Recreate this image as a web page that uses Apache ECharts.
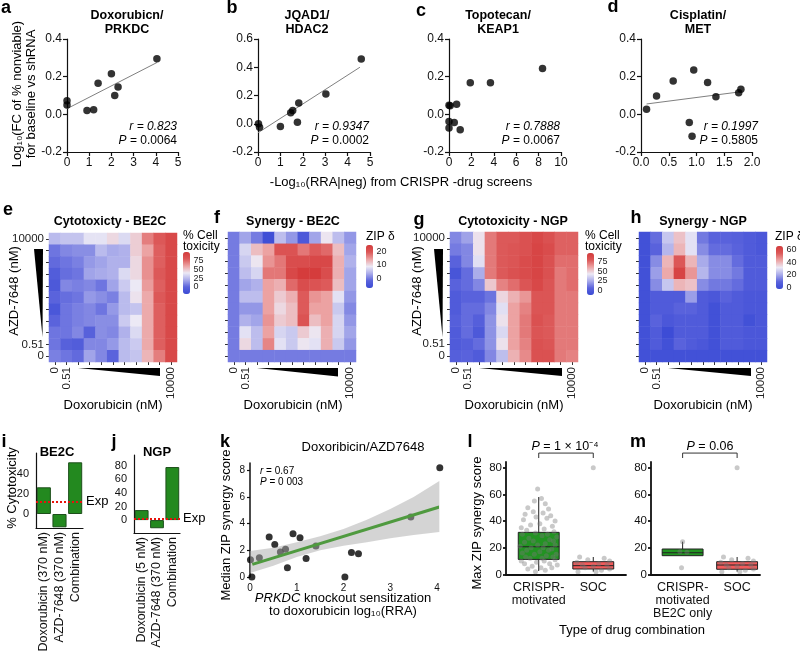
<!DOCTYPE html>
<html><head><meta charset="utf-8">
<script src="https://cdn.jsdelivr.net/npm/echarts@6/dist/echarts.min.js"></script>
<style>html,body{margin:0;padding:0;background:#fff}#c{width:800px;height:655px}</style>
</head><body><div id="c"></div>
<script>
const FF = '"Liberation Sans", Arial, Helvetica, sans-serif';

// ---------- panels a-d : scatter ----------
const aX = [0, 0, 0.9, 1.2, 1.4, 2.0, 2.15, 2.3, 4.05];
const aY = [0.072, 0.05, 0.02, 0.025, 0.165, 0.215, 0.1, 0.145, 0.295];
const aFitX = [0, 4.05], aFitY = [0.03, 0.275];
const bX = [0.02, 0.07, 1.0, 1.46, 1.55, 1.76, 1.82, 3.03, 4.61];
const bY = [0.0, -0.025, -0.02, 0.078, 0.093, 0.01, 0.147, 0.211, 0.458];
const bFitX = [0, 4.55], bFitY = [-0.064, 0.40];
const cX = [0, 0.1, 0.68, 0, 0.47, 0, 1.0, 1.9, 3.7, 8.35];
const cY = [0.048, 0.045, 0.054, -0.038, -0.043, -0.073, -0.082, 0.168, 0.168, 0.243];
const dX = [0.1, 0.28, 0.58, 0.95, 1.2, 1.35, 1.76, 1.8, 0.87, 0.92];
const dY = [0.027, 0.098, 0.177, 0.236, 0.169, 0.094, 0.114, 0.133, -0.043, -0.117];
const dFitX = [0.1, 1.8], dFitY = [0.055, 0.12];

// ---------- panels e-h : heatmaps (rows listed top = 10000 -> bottom = 0) ----------
const conc = ['0','0.51','1.5','4.6','14','41','123','370','1111','3333','10000'];
const concShown = ['0','0.51','10000'];
const cytoBE2C = [
 [25, 28, 28, 38, 38, 45, 35, 48, 70, 80, 90],
 [5, 10, 12, 12, 25, 20, 22, 48, 60, 78, 90],
 [2, 5, 8, 15, 18, 22, 22, 45, 65, 78, 90],
 [-5, 3, 5, 18, 20, 22, 35, 45, 65, 80, 90],
 [-8, 10, 8, 10, 5, 18, 30, 40, 62, 78, 90],
 [0, 3, 5, 15, 12, 8, 25, 42, 58, 80, 90],
 [-10, 5, 8, 10, 5, 15, 25, 28, 58, 78, 90],
 [0, 5, 8, 10, 12, 12, 30, 40, 58, 78, 90],
 [5, 5, 10, -2, 12, 10, 22, 35, 58, 78, 90],
 [5, -2, -5, 10, 10, 15, 25, 30, 58, 78, 90],
 [8, 5, 2, 18, 10, 0, 25, 28, 55, 70, 90]
];
const synBE2C = [
 [0, 3, 0, -6, 5, 2, -4, 3, 9, 5, 2],
 [0, 7, 12, 14, 20, 20, 17, 19, 18, 12, 3],
 [0, 6, 9, 15, 17, 21, 21, 22, 22, 13, 4],
 [0, 5, 7, 17, 17, 22, 24, 24, 21, 13, 3],
 [0, 3, 4, 14, 13, 18, 21, 20, 19, 12, 3],
 [0, 5, 5, 14, 11, 13, 19, 15, 14, 8, 2],
 [0, 2, 2, 14, 10, 12, 19, 14, 14, 6, 1],
 [0, 4, 3, 15, 11, 12, 20, 12, 14, 7, 2],
 [0, 8, 5, 14, 7, 6, 11, 9, 13, 7, 3],
 [0, 10, 5, 16, 8, 6, 9, 8, 13, 6, 2],
 [0, 0, 0, 0, 0, 0, 0, 0, 0, 0, 0]
];
const cytoNGP = [
 [15, 22, 45, 72, 80, 80, 85, 90, 85, 78, 78],
 [12, 15, 45, 72, 80, 82, 85, 92, 88, 78, 78],
 [5, 15, 40, 72, 80, 82, 88, 92, 85, 75, 75],
 [-5, 8, 25, 72, 80, 85, 88, 92, 85, 72, 75],
 [5, 8, 15, 52, 70, 75, 82, 90, 82, 72, 75],
 [0, 5, 5, 10, 48, 58, 65, 82, 82, 72, 72],
 [0, 8, 8, 15, 40, 62, 70, 82, 82, 72, 72],
 [3, 8, 3, 18, 45, 62, 72, 85, 80, 72, 72],
 [0, 8, -2, 18, 38, 62, 72, 82, 80, 72, 72],
 [0, 3, 8, 18, 45, 62, 70, 85, 82, 72, 72],
 [3, 5, 0, 15, 30, 58, 68, 85, 85, 72, 70]
];
const synNGP = [
 [0, 10, 25, 38, 30, 12, 8, 8, 7, 5, 3],
 [0, 8, 22, 40, 30, 15, 10, 10, 8, 5, 3],
 [0, 15, 40, 55, 40, 20, 15, 15, 10, 5, 5],
 [0, 18, 42, 62, 45, 22, 15, 15, 12, 5, 5],
 [0, 15, 25, 40, 38, 15, 12, 12, 10, 5, 5],
 [0, 5, 5, 5, 18, 5, 3, 8, 5, 3, 3],
 [0, 5, 5, 8, 8, 5, 0, 5, 5, 3, 3],
 [0, 8, 3, 5, 5, 5, 0, 5, 5, 0, 3],
 [0, 5, -2, 5, 5, 5, 0, 5, 5, 3, 3],
 [0, 5, 0, 8, 5, 3, 0, 5, 5, 3, 3],
 [0, 0, 0, 0, 0, 0, 0, 0, 0, 0, 0]
];
const cytoTicks = [75, 50, 25, 0];
const synBE2CTicks = [20, 10, 0];
const synNGPTicks = [60, 40, 20, 0];

// ---------- panels i-j : bars ----------
const iCats = ['Doxorubicin (370 nM)', 'AZD-7648 (370 nM)', 'Combination'];
const iVals = [26.7, -13.3, 51.7];
const iExp = 12.3;
const iTicks = [0, 20, 40];
const jCats = ['Doxorubicin (5 nM)', 'AZD-7648 (370 nM)', 'Combination'];
const jVals = [14.7, -12, 78];
const jExp = 2.5;
const jTicks = [0, 20, 40, 60, 80];

// ---------- panel k ----------
const kX = [0.01, 0.04, 0.2, 0.41, 0.53, 0.65, 0.76, 0.8, 0.92, 1.07, 1.2, 1.41, 2.03, 2.17, 2.32, 3.44, 4.06];
const kY = [1.3, 0, 1.45, 3.0, 2.43, 1.88, 2.08, 0.7, 3.25, 2.95, 1.38, 2.33, 0, 1.83, 1.75, 4.5, 8.2];
const kFitX = [0.05, 4.05], kFitY = [0.95, 5.25];
const kBandX = [0, 0.5, 1, 1.5, 2, 2.5, 3, 3.5, 4.05];
const kBandLo = [0.3, 0.85, 1.5, 2.0, 2.35, 2.6, 2.9, 3.15, 3.38];
const kBandHi = [1.95, 2.2, 2.6, 3.05, 3.6, 4.3, 5.1, 6.0, 7.2];
const kXTicks = [0, 1, 2, 3, 4];
const kYTicks = [0, 2, 4, 6, 8];

// ---------- panels l-m : box plots ----------
const boxTicks = [0, 20, 40, 60, 80];
const lCats = ['CRISPR-\nmotivated', 'SOC'];
const mCats = ['CRISPR-\nmotivated\nBE2C only', 'SOC'];
// [pos, low whisker, q1, median, q3, high whisker]
const lBoxes = [[1, 2.5, 11.2, 20.7, 31.5, 58], [2, 2, 4, 6.5, 9.5, 13]];
const mBoxes = [[1, 14, 14, 16.2, 19, 24.5], [2, 2, 3.8, 7, 9.5, 13]];
const crisprY = [64,57,55,53,50,49,47,46,45,44,43,42,41,40,38,37,36,35,34,33,32,31,30,30,29,28,27,26,25,25,24,23,22,22,21,20,20,19,18,18,17,16,15,15,14,13,13,12,12,11,10,10,9,8,8,7,6,5,5,4,3,2];
const crisprDx = [-0.02,0.05,-0.08,0.12,-0.2,0.18,-0.1,0.08,-0.25,0.22,-0.05,0.15,-0.28,0.3,0.02,-0.15,0.25,-0.32,0.1,-0.22,0.28,-0.06,0.16,-0.3,0.06,0.33,-0.18,0.2,-0.1,0.27,-0.26,0.12,-0.02,0.3,-0.34,0.08,-0.14,0.24,-0.22,0.18,0.02,-0.3,0.32,-0.08,0.14,-0.24,0.26,0.06,-0.16,0.3,-0.32,0.1,-0.04,0.2,-0.26,0.34,-0.12,0.04,0.24,-0.2,0.12,-0.06];
const socY = [80, 13, 12, 11, 10, 9, 8, 7, 7, 6, 5, 4, 3, 2, 2];
const socDx = [0, -0.25, 0.2, -0.1, 0.3, -0.3, 0.1, -0.2, 0.25, 0.0, -0.15, 0.3, 0.15, -0.28, 0.05];
const be2cY = [24.5, 17, 16.5, 5];
const be2cDx = [0, -0.05, 0.08, -0.02];

// ================= build =================
const PAL = ['#3a4ad5', '#5a63dc', '#a9abea', '#ece9f5', '#eca3a3', '#dc5858', '#d43a3a'];
const grids = [], xAxes = [], yAxes = [], series = [], visualMaps = [], graphics = [];
function addGrid(l, t, w, h) { grids.push({left: l, top: t, width: w, height: h, outerBoundsMode: 'none', containLabel: false}); return grids.length - 1; }
const ax = (o) => Object.assign({splitLine: {show: false}}, o);
function T(x, y, text, o = {}) {
  const font = `${o.it ? 'italic ' : ''}${o.b ? 'bold ' : ''}${o.s || 12}px ${FF}`;
  return {type: 'text', x, y, rotation: o.rot || 0, z: 100,
    style: {text, fill: o.c || '#000', font, textAlign: o.a || 'center', align: o.a || 'center',
      textVerticalAlign: 'middle', verticalAlign: 'middle', lineHeight: o.lh, rich: o.rich}};
}
const richI = (s) => ({i: {fontStyle: 'italic', fontSize: s, fontFamily: FF, fill: '#000'}, n: {fontSize: s, fontFamily: FF, fill: '#000'}});

function scatterPanel(g, xs, ys, xr, yr, xdec, fitX, fitY) {
  const gi = addGrid(...g);
  const line = {show: true, onZero: false, lineStyle: {color: '#111', width: 1.2}};
  const tick = {show: true, length: 4, lineStyle: {color: '#111', width: 1.2}};
  const fmt = (d) => (v) => (Math.abs(v) < 1e-9 ? 0 : v).toFixed(d);
  xAxes.push(ax({type: 'value', gridIndex: gi, min: xr[0], max: xr[1], interval: xr[2], axisLine: line, axisTick: tick,
    axisLabel: {color: '#111', fontSize: 12, fontFamily: FF, margin: 5, formatter: fmt(xdec)}}));
  yAxes.push(ax({type: 'value', gridIndex: gi, min: yr[0], max: yr[1], interval: yr[2], axisLine: line, axisTick: tick,
    axisLabel: {color: '#111', fontSize: 12, fontFamily: FF, margin: 5, formatter: fmt(1)}}));
  const xi = xAxes.length - 1, yi = yAxes.length - 1;
  if (fitX) series.push({type: 'line', xAxisIndex: xi, yAxisIndex: yi, data: fitX.map((x, k) => [x, fitY[k]]),
    symbol: 'none', lineStyle: {color: '#808080', width: 1}, z: 2, silent: true});
  series.push({type: 'scatter', xAxisIndex: xi, yAxisIndex: yi, data: xs.map((x, k) => [x, ys[k]]),
    symbolSize: 7.5, itemStyle: {color: '#000'}, clip: false, z: 3});
}
scatterPanel([67, 39, 111, 113], aX, aY, [0, 5, 1], [-0.2, 0.4, 0.2], 0, aFitX, aFitY);
scatterPanel([258, 39, 112, 113], bX, bY, [0, 5, 1], [-0.2, 0.6, 0.2], 0, bFitX, bFitY);
scatterPanel([449, 39, 112, 113], cX, cY, [0, 10, 2], [-0.2, 0.4, 0.2], 0, null, null);
scatterPanel([641, 39, 111, 113], dX, dY, [0, 2, 0.5], [-0.2, 0.4, 0.2], 1, dFitX, dFitY);

function heatPanel(g, rows, vmin, vmax, showY, vm, ticks) {
  const gi = addGrid(...g);
  const tick = {show: true, alignWithLabel: true, interval: 0, length: 3, lineStyle: {color: '#333', width: 1}};
  const lab = {interval: 0, fontSize: 11.5, color: '#222', fontFamily: FF, formatter: (v) => concShown.includes(v) ? v : ''};
  xAxes.push(ax({type: 'category', gridIndex: gi, data: conc, axisLine: {show: false}, axisTick: tick,
    axisLabel: Object.assign({rotate: 90, margin: 5}, lab)}));
  yAxes.push(ax({type: 'category', gridIndex: gi, data: conc, axisLine: {show: false}, axisTick: tick,
    axisLabel: Object.assign({show: showY, margin: 5}, lab)}));
  const data = [];
  rows.forEach((row, r) => row.forEach((v, c) => data.push([c, rows.length - 1 - r, v])));
  series.push({type: 'heatmap', xAxisIndex: xAxes.length - 1, yAxisIndex: yAxes.length - 1, data, itemStyle: {borderWidth: 0}});
  visualMaps.push({type: 'continuous', seriesIndex: series.length - 1, min: vmin, max: vmax, dimension: 2,
    calculable: false, show: true, orient: 'vertical', left: vm[0], top: vm[1], itemWidth: vm[2], itemHeight: vm[3],
    text: null, padding: 0, inRange: {color: PAL}, hoverLink: false});
  ticks.forEach((t) => {
    const y = vm[1] + (vmax - t) / (vmax - vmin) * vm[3];
    graphics.push(T(vm[0] + vm[2] + 3.5, y, String(t), {s: 9, a: 'left', c: '#222'}));
  });
}
heatPanel([49, 233, 128, 129], cytoBE2C, -20, 100, true, [183, 252, 7, 42], cytoTicks);
heatPanel([228, 232, 128, 130], synBE2C, -7, 24.4, false, [366, 245, 7, 43], synBE2CTicks);
heatPanel([450, 232, 128, 130], cytoNGP, -13, 99, true, [587, 253, 7, 42], cytoTicks);
heatPanel([639, 232, 128, 130], synNGP, -3, 66, false, [776, 246, 7, 43], synNGPTicks);

function barPanel(g, cats, vals, yr, ticks, exp) {
  const gi = addGrid(...g);
  xAxes.push(ax({type: 'category', gridIndex: gi, data: cats, axisLine: {show: true, onZero: false, lineStyle: {color: '#111', width: 1.2}},
    axisTick: {show: false}, axisLabel: {interval: 0, rotate: 90, fontSize: 12.5, color: '#111', fontFamily: FF, margin: 4}}));
  yAxes.push(ax({type: 'value', gridIndex: gi, min: yr[0], max: yr[1], axisLine: {show: true, lineStyle: {color: '#111', width: 1.2}},
    axisTick: {show: false}, axisLabel: {customValues: ticks, fontSize: 11, color: '#111', fontFamily: FF, margin: 7}}));
  series.push({type: 'bar', xAxisIndex: xAxes.length - 1, yAxisIndex: yAxes.length - 1, data: vals, barWidth: '90%',
    itemStyle: {color: '#23891f', borderColor: '#1d4f1b', borderWidth: 1},
    markLine: {symbol: 'none', silent: true, animation: false, lineStyle: {color: '#e8120c', type: [2, 2], width: 2},
      data: [{yAxis: exp}], label: {show: true, position: 'end', formatter: 'Exp', color: '#000', fontSize: 13, fontFamily: FF, distance: 3}}});
}
barPanel([36, 453, 47, 75], iCats, iVals, [-14, 61], iTicks, iExp);
barPanel([134, 455, 46, 78], jCats, jVals, [-19, 95.7], jTicks, jExp);

// k
(function () {
  const gi = addGrid(250, 463, 187, 114);
  xAxes.push(ax({type: 'value', gridIndex: gi, min: 0, max: 4, axisLine: {show: false, onZero: false}, axisTick: {show: false},
    axisLabel: {customValues: kXTicks, fontSize: 10, color: '#111', fontFamily: FF, margin: 6}}));
  yAxes.push(ax({type: 'value', gridIndex: gi, min: 0, max: 8.55, axisLine: {show: true, lineStyle: {color: '#111', width: 1.5}},
    axisTick: {show: true, customValues: kYTicks, length: 3, lineStyle: {color: '#111', width: 1.2}},
    axisLabel: {customValues: kYTicks, fontSize: 10, color: '#111', fontFamily: FF, margin: 5}}));
  const xi = xAxes.length - 1, yi = yAxes.length - 1;
  series.push({type: 'scatter', xAxisIndex: xi, yAxisIndex: yi, data: kX.map((x, i) => [x, kY[i]]), symbolSize: 7,
    itemStyle: {color: '#000'}, clip: false, z: 2});
  series.push({type: 'custom', xAxisIndex: xi, yAxisIndex: yi, data: [[0]], z: 3, silent: true, clip: false,
    renderItem: (p, api) => {
      const pts = kBandX.map((x, i) => api.coord([x, kBandHi[i]])).concat(kBandX.map((x, i) => api.coord([x, kBandLo[i]])).reverse());
      return {type: 'polygon', shape: {points: pts}, style: {fill: 'rgba(170,170,170,0.5)'}};
    }});
  series.push({type: 'line', xAxisIndex: xi, yAxisIndex: yi, data: kFitX.map((x, i) => [x, kFitY[i]]), symbol: 'none',
    lineStyle: {color: '#4f9a3f', width: 3}, z: 4, silent: true});
})();

function boxPanel(g, xr, cats, boxes, colors, groups) {
  const gi = addGrid(...g);
  xAxes.push(ax({type: 'value', gridIndex: gi, min: xr[0], max: xr[1], axisLine: {show: true, onZero: false, lineStyle: {color: '#111', width: 1.8}},
    axisTick: {show: false}, axisLabel: {customValues: [1, 2], formatter: (v) => cats[Math.round(v) - 1], fontSize: 12.5,
      lineHeight: 13, color: '#111', fontFamily: FF, margin: 6, verticalAlign: 'top'}}));
  yAxes.push(ax({type: 'value', gridIndex: gi, min: -0.5, max: 84.3, axisLine: {show: true, lineStyle: {color: '#111', width: 1.8}},
    axisTick: {show: true, customValues: boxTicks, length: 3, lineStyle: {color: '#111', width: 1.8}},
    axisLabel: {customValues: boxTicks, fontSize: 11.5, color: '#111', fontFamily: FF, margin: 4}}));
  const xi = xAxes.length - 1, yi = yAxes.length - 1;
  series.push({type: 'custom', xAxisIndex: xi, yAxisIndex: yi, data: boxes, z: 2, silent: true,
    renderItem: (p, api) => {
      const x = api.value(0), lo = api.value(1), q1 = api.value(2), md = api.value(3), q3 = api.value(4), hi = api.value(5);
      const hw = 0.375;
      const tl = api.coord([x - hw, q3]), br = api.coord([x + hw, q1]);
      const a = api.coord([x, hi]), b = api.coord([x, q3]), c = api.coord([x, q1]), d = api.coord([x, lo]);
      const m1 = api.coord([x - hw, md]), m2 = api.coord([x + hw, md]);
      const st = {stroke: '#222', lineWidth: 1};
      return {type: 'group', children: [
        {type: 'line', shape: {x1: a[0], y1: a[1], x2: b[0], y2: b[1]}, style: st},
        {type: 'line', shape: {x1: c[0], y1: c[1], x2: d[0], y2: d[1]}, style: st},
        {type: 'rect', shape: {x: tl[0], y: tl[1], width: br[0] - tl[0], height: br[1] - tl[1]}, style: {fill: colors[p.dataIndex], stroke: '#222', lineWidth: 1}},
        {type: 'line', shape: {x1: m1[0], y1: m1[1], x2: m2[0], y2: m2[1]}, style: st}
      ]};
    }});
  groups.forEach(([cx, ys, dxs]) => {
    series.push({type: 'scatter', xAxisIndex: xi, yAxisIndex: yi, data: ys.map((y, i) => [cx + dxs[i], y]), symbolSize: 5,
      itemStyle: {color: 'rgba(120,120,120,0.5)'}, clip: false, z: 3});
  });
  series.push({type: 'custom', xAxisIndex: xi, yAxisIndex: yi, data: [[1, 2, 91, 87.3]], z: 4, silent: true, clip: false,
    renderItem: (p, api) => {
      const p1 = api.coord([api.value(0), api.value(3)]), p2 = api.coord([api.value(0), api.value(2)]);
      const p3 = api.coord([api.value(1), api.value(2)]), p4 = api.coord([api.value(1), api.value(3)]);
      return {type: 'polyline', shape: {points: [p1, p2, p3, p4]}, style: {stroke: '#333', lineWidth: 1, fill: null}};
    }});
}
boxPanel([506, 462, 120, 113], [0.4, 2.6], lCats, lBoxes, ['#229322', '#f25b5b'], [[1, crisprY, crisprDx], [2, socY, socDx]]);
boxPanel([651, 462, 109, 113], [0.42, 2.42], mCats, mBoxes, ['#229322', '#f25b5b'], [[1, be2cY, be2cDx], [2, socY, socDx]]);

// ---------- text annotations ----------
const L = (x, y, t) => graphics.push(T(x, y, t, {b: true, s: 18}));
L(6, 8, 'a'); L(232, 8, 'b'); L(421, 11, 'c'); L(613, 7, 'd');
L(8, 210, 'e'); L(217, 218, 'f'); L(419, 220, 'g'); L(636, 218, 'h');
L(4, 442, 'i'); L(114, 442, 'j'); L(225, 442, 'k'); L(470, 442, 'l'); L(638, 442, 'm');

[[127, 'Doxorubicn/', 'PRKDC'], [307, 'JQAD1/', 'HDAC2'], [498, 'Topotecan/', 'KEAP1'], [698, 'Cisplatin/', 'MET']].forEach(([x, t1, t2]) => {
  graphics.push(T(x, 16, t1, {b: true, s: 12.5})); graphics.push(T(x, 30, t2, {b: true, s: 12.5}));
});
graphics.push(T(24, 94, 'Log₁₀(FC of % nonviable)\nfor baseline vs shRNA', {s: 13, rot: Math.PI / 2, lh: 14}));
graphics.push(T(401, 182, '-Log₁₀(RRA|neg) from CRISPR -drug screens', {s: 13}));
[[177, '0.823', '0.0064'], [369, '0.9347', '0.0002'], [560, '0.7888', '0.0067'], [758, '0.1997', '0.5805']].forEach(([x, r, p]) => {
  graphics.push(T(x, 127, 'r = ' + r, {s: 12, a: 'right', it: true}));
  graphics.push(T(x, 141, '{i|P}{n| = ' + p + '}', {s: 12, a: 'right', rich: richI(12)}));
});

[[110, 'Cytotoxicty - BE2C'], [293, 'Synergy - BE2C'], [513, 'Cytotoxicity - NGP'], [703, 'Synergy - NGP']].forEach(([x, t]) => graphics.push(T(x, 222, t, {b: true, s: 12.5})));
[113, 293, 514, 703].forEach((x) => graphics.push(T(x, 405, 'Doxorubicin (nM)', {s: 13})));
graphics.push(T(14, 291, 'AZD-7648 (nM)', {s: 13, rot: Math.PI / 2}));
graphics.push(T(417, 291, 'AZD-7648 (nM)', {s: 13, rot: Math.PI / 2}));
graphics.push(T(183, 236, '% Cell', {s: 12, a: 'left'})); graphics.push(T(183, 247, 'toxicity', {s: 12, a: 'left'}));
graphics.push(T(585, 236, '% Cell', {s: 12, a: 'left'})); graphics.push(T(585, 247, 'toxicity', {s: 12, a: 'left'}));
graphics.push(T(366, 237, 'ZIP δ', {s: 12, a: 'left'})); graphics.push(T(775, 237, 'ZIP δ', {s: 12, a: 'left'}));
const W = (pts) => graphics.push({type: 'polygon', shape: {points: pts}, style: {fill: '#000'}, z: 100});
W([[34, 249], [43, 249], [42.5, 337]]); W([[434, 249], [443, 249], [442.5, 337]]);
W([[78, 368], [160, 368], [160, 376]]); W([[257, 368], [338, 368], [338, 376.5]]);
W([[479, 368], [562, 368], [562, 376]]); W([[668, 368], [751, 368], [751, 376]]);

graphics.push(T(57, 452, 'BE2C', {b: true, s: 13})); graphics.push(T(157, 452, 'NGP', {b: true, s: 13}));
graphics.push(T(12, 488, '% Cytotoxicity', {s: 13, rot: Math.PI / 2}));

graphics.push(T(363, 447, 'Doxoribicin/AZD7648', {s: 13}));
graphics.push(T(226, 525, 'Median ZIP synergy score', {s: 13, rot: Math.PI / 2}));
graphics.push(T(343, 598, '{i|PRKDC}{n| knockout sensitization}', {s: 13, rich: richI(13)}));
graphics.push(T(343, 611, 'to doxorubicin log₁₀(RRA)', {s: 13}));
graphics.push(T(260, 471, '{i|r}{n| = 0.67}', {s: 10, a: 'left', rich: richI(10)}));
graphics.push(T(260, 482, '{i|P}{n| = 0 003}', {s: 10, a: 'left', rich: richI(10)}));

graphics.push(T(477, 523, 'Max ZIP synergy score', {s: 13, rot: Math.PI / 2}));
graphics.push(T(565, 447, '{i|P}{n| = 1 × 10⁻⁴}', {s: 12.5, rich: richI(12.5)}));
graphics.push(T(710, 447, '{i|P}{n| = 0.06}', {s: 12.5, rich: richI(12.5)}));
graphics.push(T(632, 630, 'Type of drug combination', {s: 13}));

const chart = echarts.init(document.getElementById('c'), null, {renderer: 'canvas', width: 800, height: 655});
chart.setOption({
  animation: false, backgroundColor: '#fff', textStyle: {fontFamily: FF},
  grid: grids, xAxis: xAxes, yAxis: yAxes, series, visualMap: visualMaps, graphic: {elements: graphics}
});
</script></body></html>
